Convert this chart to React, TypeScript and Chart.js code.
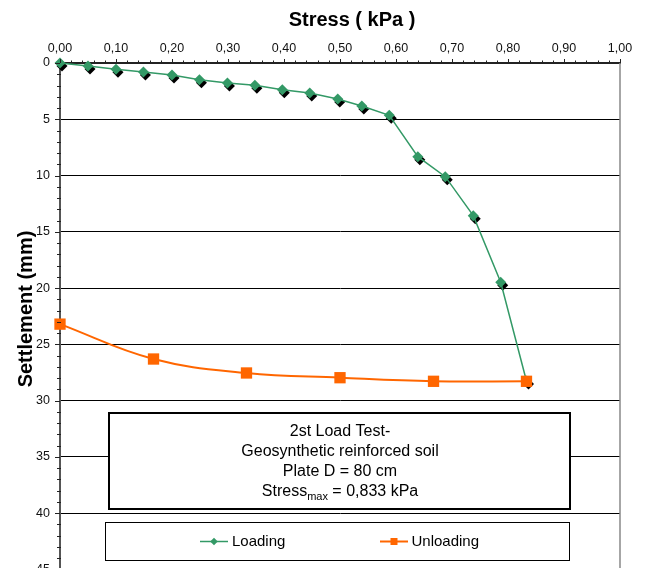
import React, { useEffect, useRef } from 'react';
import { Chart, registerables } from 'chart.js';

Chart.register(...registerables);

// ---- data ----
const seriesNames = ['Loading', 'Unloading'];
const loadingStress = [0, 0.05, 0.1, 0.149, 0.2, 0.249, 0.299, 0.348, 0.397, 0.446, 0.496, 0.539, 0.588, 0.639, 0.688, 0.738, 0.787, 0.833];
const loadingSettlement = [0, 0.27, 0.56, 0.8, 1.07, 1.48, 1.78, 1.98, 2.37, 2.67, 3.2, 3.82, 4.65, 8.32, 10.1, 13.56, 19.48, 28.25];
const unloadingStress = [0.833, 0.667, 0.5, 0.333, 0.167, 0];
const unloadingSettlement = [28.28, 28.28, 27.96, 27.54, 26.3, 23.2];

const xTickValues = [0, 0.1, 0.2, 0.3, 0.4, 0.5, 0.6, 0.7, 0.8, 0.9, 1.0];
const xTickLabels = ['0,00', '0,10', '0,20', '0,30', '0,40', '0,50', '0,60', '0,70', '0,80', '0,90', '1,00'];
const yTickValues = [0, 5, 10, 15, 20, 25, 30, 35, 40, 45];
const yTickLabels = ['0', '5', '10', '15', '20', '25', '30', '35', '40', '45'];

const xTitle = 'Stress ( kPa )';
const yTitle = 'Settlement (mm)';
const noteLines = ['2st Load Test-', 'Geosynthetic reinforced soil', 'Plate D = 80 cm'];
const noteStressWord = 'Stress';
const noteStressSub = 'max';
const noteStressValue = ' = 0,833 kPa';

const FONT = '"Liberation Sans", Arial, Helvetica, sans-serif';
const GREEN = '#339966';
const ORANGE = '#FF6600';

function diamond(ctx: CanvasRenderingContext2D, x: number, y: number, r: number) {
  ctx.beginPath();
  ctx.moveTo(x, y - r);
  ctx.lineTo(x + r, y);
  ctx.lineTo(x, y + r);
  ctx.lineTo(x - r, y);
  ctx.closePath();
  ctx.fill();
}

const decorPlugin = {
  id: 'decor',
  beforeDatasetDraw(chart: any, args: any) {
    if (args.index !== 0) return;
    const ctx: CanvasRenderingContext2D = chart.ctx;
    ctx.save();
    ctx.fillStyle = '#000';
    args.meta.data.forEach((el: any) => diamond(ctx, el.x + 2, el.y + 3, 5.5));
    ctx.restore();
  },
  afterDraw(chart: any) {
    const ctx: CanvasRenderingContext2D = chart.ctx;
    const { left, right, top, bottom } = chart.chartArea;
    const xs = chart.scales.x;
    const ys = chart.scales.y;
    ctx.save();

    // right border of plot area
    ctx.strokeStyle = '#888';
    ctx.lineWidth = 1.5;
    ctx.beginPath();
    ctx.moveTo(right, top);
    ctx.lineTo(right, bottom);
    ctx.stroke();

    // tick marks
    ctx.strokeStyle = '#222';
    ctx.lineWidth = 1;
    for (let i = 0; i <= 50; i++) {
      const px = Math.round(xs.getPixelForValue(i / 50)) + 0.5;
      const len = i % 5 === 0 ? 4 : 2.5;
      ctx.beginPath();
      ctx.moveTo(px, top - len);
      ctx.lineTo(px, top);
      ctx.stroke();
    }
    for (let i = 0; i <= 45; i++) {
      const py = Math.round(ys.getPixelForValue(i)) + 0.5;
      const len = i % 5 === 0 ? 5 : 3;
      ctx.beginPath();
      ctx.moveTo(left - len, py);
      ctx.lineTo(left + (i % 5 === 0 ? 0 : 1), py);
      ctx.stroke();
    }

    // axis titles
    ctx.fillStyle = '#000';
    ctx.font = `bold 20px ${FONT}`;
    ctx.textAlign = 'center';
    ctx.textBaseline = 'alphabetic';
    ctx.fillText(xTitle, 352, 26);
    ctx.save();
    ctx.translate(31.5, 309);
    ctx.rotate(-Math.PI / 2);
    ctx.fillText(yTitle, 0, 0);
    ctx.restore();

    // note box
    ctx.fillStyle = '#fff';
    ctx.fillRect(109, 413, 461, 96);
    ctx.strokeStyle = '#000';
    ctx.lineWidth = 2;
    ctx.strokeRect(109, 413, 461, 96);
    ctx.fillStyle = '#000';
    ctx.font = `16px ${FONT}`;
    ctx.textAlign = 'center';
    ctx.textBaseline = 'middle';
    const cx = 340;
    noteLines.forEach((t, i) => ctx.fillText(t, cx, 432 + i * 20));
    const ly = 492;
    ctx.font = `16px ${FONT}`;
    const wa = ctx.measureText(noteStressWord).width;
    const wc = ctx.measureText(noteStressValue).width;
    ctx.font = `11px ${FONT}`;
    const wb = ctx.measureText(noteStressSub).width;
    const sx = cx - (wa + wb + wc) / 2;
    ctx.textAlign = 'left';
    ctx.font = `16px ${FONT}`;
    ctx.fillText(noteStressWord, sx, ly);
    ctx.font = `11px ${FONT}`;
    ctx.fillText(noteStressSub, sx + wa, ly + 5);
    ctx.font = `16px ${FONT}`;
    ctx.fillText(noteStressValue, sx + wa + wb, ly);

    // legend box
    ctx.fillStyle = '#fff';
    ctx.fillRect(105.5, 522.5, 464, 38);
    ctx.strokeStyle = '#000';
    ctx.lineWidth = 1;
    ctx.strokeRect(105.5, 522.5, 464, 38);
    const gy = 541.5;
    ctx.strokeStyle = GREEN;
    ctx.lineWidth = 1.5;
    ctx.beginPath();
    ctx.moveTo(200, gy);
    ctx.lineTo(228, gy);
    ctx.stroke();
    ctx.fillStyle = GREEN;
    diamond(ctx, 214, gy, 3.8);
    ctx.strokeStyle = ORANGE;
    ctx.lineWidth = 2;
    ctx.beginPath();
    ctx.moveTo(380, gy);
    ctx.lineTo(408, gy);
    ctx.stroke();
    ctx.fillStyle = ORANGE;
    ctx.fillRect(390.5, gy - 3.5, 7, 7);
    ctx.fillStyle = '#000';
    ctx.font = `15px ${FONT}`;
    ctx.textAlign = 'left';
    ctx.textBaseline = 'middle';
    ctx.fillText(seriesNames[0], 232, gy);
    ctx.fillText(seriesNames[1], 411.5, gy);

    ctx.restore();
  },
};

export default function App() {
  const ref = useRef<HTMLCanvasElement>(null);
  useEffect(() => {
    const chart = new Chart(ref.current as HTMLCanvasElement, {
      type: 'scatter',
      data: {
        datasets: [
          {
            label: seriesNames[0],
            data: loadingStress.map((x, i) => ({ x, y: loadingSettlement[i] })),
            showLine: true,
            borderColor: GREEN,
            backgroundColor: GREEN,
            borderWidth: 1.5,
            pointStyle: 'rectRot',
            pointRadius: 5.5,
            pointBorderWidth: 0,
            pointBackgroundColor: GREEN,
            tension: 0,
            order: 2,
            clip: false,
          },
          {
            label: seriesNames[1],
            data: unloadingStress.map((x, i) => ({ x, y: unloadingSettlement[i] })),
            showLine: true,
            borderColor: ORANGE,
            backgroundColor: ORANGE,
            borderWidth: 2,
            pointStyle: 'rect',
            pointRadius: 8,
            pointBorderWidth: 0,
            pointBackgroundColor: ORANGE,
            tension: 0.4,
            order: 1,
            clip: false,
          },
        ],
      } as any,
      options: {
        responsive: false,
        animation: false,
        devicePixelRatio: 1,
        layout: { padding: { left: 0, top: 0, right: 26, bottom: 30.5 } },
        plugins: {
          legend: { display: false },
          tooltip: { enabled: false },
          title: { display: false },
        },
        scales: {
          x: {
            type: 'linear',
            position: 'top',
            min: 0,
            max: 1,
            afterBuildTicks: (s: any) => {
              s.ticks = xTickValues.map((v) => ({ value: v }));
            },
            afterFit: (s: any) => {
              s.height = 63;
            },
            grid: { display: false, drawTicks: false },
            border: { display: true, color: '#222', width: 2 },
            ticks: {
              padding: 7,
              autoSkip: false,
              maxRotation: 0,
              color: '#111',
              font: { family: FONT, size: 12.5 },
              callback: (_v: any, i: number) => xTickLabels[i] ?? '',
            },
          },
          y: {
            type: 'linear',
            position: 'left',
            reverse: true,
            min: 0,
            max: 45,
            afterBuildTicks: (s: any) => {
              s.ticks = yTickValues.map((v) => ({ value: v }));
            },
            afterFit: (s: any) => {
              s.width = 60;
            },
            grid: { color: '#000', lineWidth: 1, drawTicks: false },
            border: { display: true, color: '#555', width: 2 },
            ticks: {
              padding: 10,
              autoSkip: false,
              color: '#111',
              font: { family: FONT, size: 12.5 },
              callback: (_v: any, i: number) => yTickLabels[i] ?? '',
            },
          },
        },
      } as any,
      plugins: [decorPlugin],
    });
    return () => chart.destroy();
  }, []);

  return (
    <div
      style={{
        position: 'fixed',
        left: 0,
        top: 0,
        width: 646,
        height: 568,
        overflow: 'hidden',
        background: '#fff',
      }}
    >
      <canvas ref={ref} width={646} height={600} style={{ display: 'block', width: 646, height: 600 }} />
    </div>
  );
}
